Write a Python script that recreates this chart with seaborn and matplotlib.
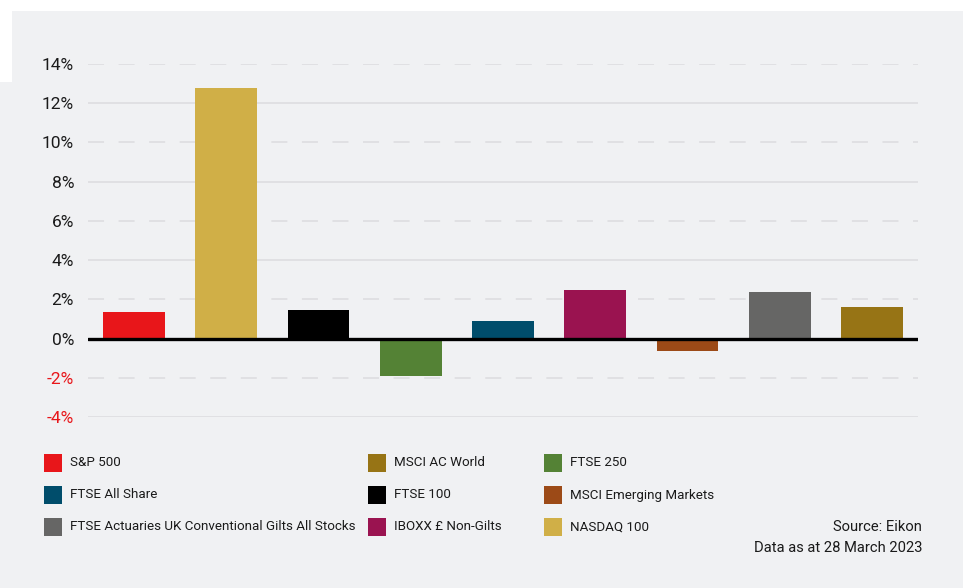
import matplotlib
matplotlib.use("Agg")
import matplotlib.pyplot as plt
from matplotlib.patches import Rectangle
import seaborn as sns
import pandas as pd

# ---- data ----
indices = ["S&P 500", "NASDAQ 100", "FTSE 100", "FTSE 250", "FTSE All Share",
           "IBOXX £ Non-Gilts", "MSCI Emerging Markets",
           "FTSE Actuaries UK Conventional Gilts All Stocks", "MSCI AC World"]
returns = [1.37, 12.77, 1.48, -1.93, 0.92, 2.49, -0.61, 2.39, 1.63]
colors = ["#e8161a", "#d0af47", "#000000", "#548235", "#004d6b",
          "#9a1350", "#9c4a17", "#666665", "#977415"]
y_ticks = [-4, -2, 0, 2, 4, 6, 8, 10, 12, 14]
legend_rows = [["S&P 500", "MSCI AC World", "FTSE 250"],
               ["FTSE All Share", "FTSE 100", "MSCI Emerging Markets"],
               ["FTSE Actuaries UK Conventional Gilts All Stocks", "IBOXX £ Non-Gilts", "NASDAQ 100"]]
source_lines = ["Source: Eikon", "Data as at 28 March 2023"]

df = pd.DataFrame({"index": indices, "ret": returns})
palette = dict(zip(indices, colors))

W, H = 963, 588
BG = "#f0f1f3"
sns.set_theme(style="white")
plt.rcParams["font.family"] = ["Roboto", "DejaVu Sans"]

fig = plt.figure(figsize=(W / 100, H / 100), dpi=100, facecolor=BG)
# white strips at top and top-left
fig.patches.append(Rectangle((0, 1 - 11 / H), 1, 11 / H, transform=fig.transFigure,
                             facecolor="white", edgecolor="none", zorder=0))
fig.patches.append(Rectangle((0, 1 - 82 / H), 12 / W, 82 / H, transform=fig.transFigure,
                             facecolor="white", edgecolor="none", zorder=0))

ax_l, ax_r, ax_t, ax_b = 88, 918, 64, 417
ax = fig.add_axes([ax_l / W, 1 - ax_b / H, (ax_r - ax_l) / W, (ax_b - ax_t) / H])
ax.set_facecolor(BG)

sns.barplot(data=df, x="index", y="ret", hue="index", palette=palette,
            order=indices, hue_order=indices, dodge=False, legend=False,
            width=0.67, saturation=1, ax=ax, zorder=3,
            edgecolor="none", linewidth=0)

ax.set_xlim(-0.5, len(indices) - 0.5)
ax.set_ylim(-4, 14)
for v in y_ticks:
    if v == 0:
        continue
    if v in (14, 10, 6, 2, -2):
        ax.axhline(v, color="#dcdcdf", lw=1.1, ls=(0, (10.5, 9.5)), zorder=1)
    else:
        ax.axhline(v, color="#dcdcdf", lw=1.1, zorder=1)
ax.axhline(0, color="#000000", lw=2.4, zorder=4)

ax.set_yticks(y_ticks)
ax.set_yticklabels([f"{v}%" for v in y_ticks])
for lab, v in zip(ax.get_yticklabels(), y_ticks):
    lab.set_color("#e8161a" if v < 0 else "#1a1a1a")
ax.tick_params(axis="y", length=0, pad=10, labelsize=12.5)
ax.set_xticks([])
ax.set_xlabel("")
ax.set_ylabel("")
for s in ax.spines.values():
    s.set_visible(False)

# legend (manual grid)
col_patch_x = [44, 368, 544]
row_y = [463, 495, 527]
box = 18
for r, row in enumerate(legend_rows):
    for c, name in enumerate(row):
        x0 = col_patch_x[c]
        yc = row_y[r]
        fig.patches.append(Rectangle((x0 / W, 1 - (yc + box / 2) / H), box / W, box / H,
                                     transform=fig.transFigure,
                                     facecolor=palette[name], edgecolor="none"))
        fig.text((x0 + box + 8) / W, 1 - yc / H, name, fontsize=9.6,
                 color="#1a1a1a", va="center", ha="left")

fig.text(922 / W, 1 - 527 / H, source_lines[0], fontsize=10.6, color="#1a1a1a",
         ha="right", va="center")
fig.text(922 / W, 1 - 548 / H, source_lines[1], fontsize=10.6, color="#1a1a1a",
         ha="right", va="center")

fig.savefig("out.png", dpi=100, facecolor=BG)
